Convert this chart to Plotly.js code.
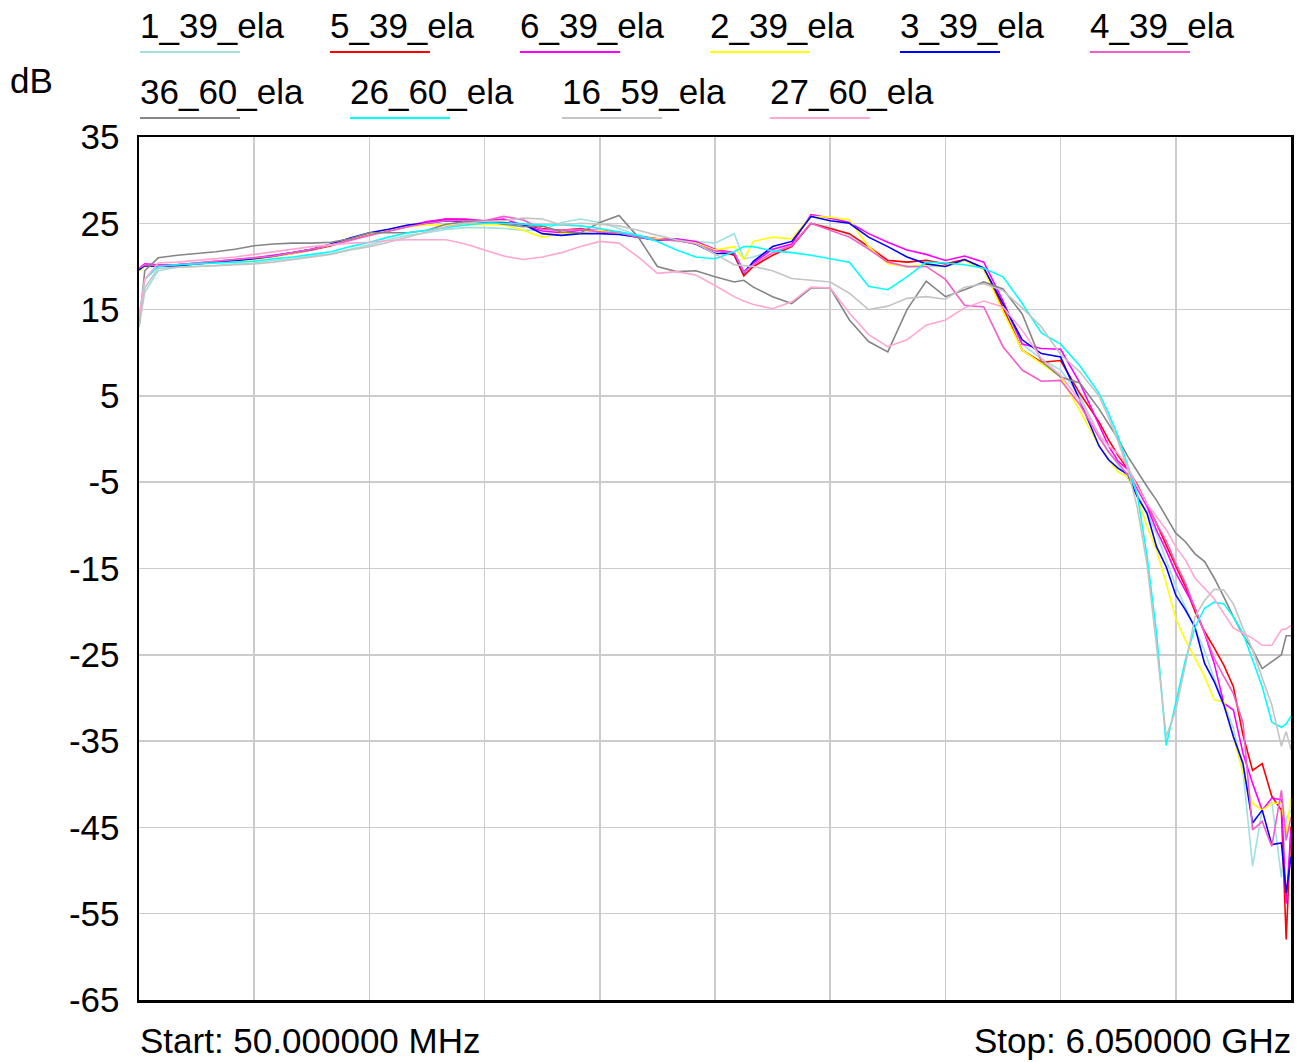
<!DOCTYPE html>
<html>
<head>
<meta charset="utf-8">
<script src="https://cdn.plot.ly/plotly-3.0.1.min.js"></script>
<style>
  html, body { margin: 0; padding: 0; background: #ffffff; }
  #chart { width: 1308px; height: 1062px; }
</style>
</head>
<body>
<div id="chart"></div>
<script>
// ---------- DATA ----------
const freqMHz = [50,80,150,250,350,450,550,650,750,850,950,1050,1150,1250,1350,1450,1550,1650,1750,1850,1950,2050,2150,2250,2350,2450,2550,2650,2750,2850,2950,3050,3150,3200,3250,3350,3450,3550,3650,3750,3850,3950,4050,4150,4250,4350,4450,4550,4650,4750,4850,4950,5050,5100,5150,5200,5250,5300,5350,5400,5450,5500,5550,5600,5650,5700,5750,5800,5850,5900,5950,6000,6025,6050];

const seriesNames = ['1_39_ela','5_39_ela','6_39_ela','2_39_ela','3_39_ela','4_39_ela','36_60_ela','26_60_ela','16_59_ela','27_60_ela'];

const s1_39 = [13.0,17.0,
  19.5,19.9,20.0,20.1,20.3,20.4,20.7,20.9,21.2,21.5,22.0,22.5,23.1,23.6,23.9,24.3,24.5,24.5,24.4,24.2,24.2,25.1,25.5,25.1,24.4,23.6,23.2,22.9,22.9,
  22.7,23.8,20.9,21.1,21.9,22.4,24.9,24.6,23.6,22.2,20.5,19.9,20.0,20.0,20.7,19.8,15.3,11.0,9.3,8.0,5.0,
  0.5,-1.5,-3.0,-4.5,-6.5,-8.5,-11.0,-14.0,-17.0,-19.5,-22.0,-24.5,-27.8,-30.5,-33.5,-38.5,-49.5,-43.0,-42.0,-50.8,
  -44.0,-43.0];

const s5_39 = [19.6,20.2,
  20.1,20.2,20.3,20.5,20.7,20.9,21.2,21.5,21.9,22.4,23.1,23.7,24.1,24.6,25.1,25.5,25.4,25.2,25.1,24.8,24.4,24.2,24.4,24.0,23.9,23.4,23.2,23.1,22.7,
  21.9,21.3,18.9,20.0,21.3,22.3,25.0,24.4,23.8,22.3,20.7,20.5,20.7,20.3,20.8,19.8,15.2,10.3,8.9,9.1,5.3,
  2.0,-0.1,-1.9,-3.5,-5.3,-7.5,-9.8,-12.3,-14.8,-17.1,-20.0,-22.3,-24.2,-26.2,-28.7,-34.3,-38.4,-37.6,-41.4,-43.0,
  -58.0,-44.9];

const s6_39 = [19.8,20.3,
  20.2,20.2,20.4,20.6,20.8,21.0,21.3,21.6,22.0,22.5,23.1,23.7,24.2,24.7,25.2,25.5,25.5,25.3,25.5,24.8,24.1,23.9,24.2,24.2,24.0,23.5,23.2,23.2,22.9,
  22.0,21.6,19.4,20.4,22.0,22.6,26.0,25.6,25.1,23.8,22.8,21.9,21.4,20.7,21.2,20.5,16.0,11.0,10.5,10.4,6.5,
  1.5,-0.8,-2.6,-3.5,-5.8,-7.8,-10.6,-12.9,-15.5,-17.5,-19.6,-22.5,-26.0,-30.6,-31.4,-36.4,-39.9,-43.0,-41.6,-41.8,
  -53.8,-45.3];

const s2_39 = [19.5,20.0,
  20.0,20.1,20.3,20.5,20.6,20.8,21.1,21.5,22.0,22.5,23.2,23.8,24.2,24.6,24.8,24.8,24.8,24.9,24.8,24.2,23.4,23.8,23.9,24.2,23.8,23.4,23.2,23.0,22.7,
  21.9,22.3,20.8,22.9,23.4,23.2,25.8,25.7,25.4,22.3,20.3,20.0,20.2,20.0,20.7,19.6,14.8,10.3,8.7,7.2,3.3,
  -0.8,-2.4,-3.8,-4.4,-6.7,-10.1,-12.9,-16.7,-20.8,-23.3,-25.4,-27.5,-30.2,-30.4,-34.5,-38.7,-42.2,-43.0,-42.2,-42.2,
  -45.7,-41.6];

const s3_39 = [19.6,20.1,
  20.0,20.1,20.3,20.5,20.7,20.9,21.2,21.6,22.0,22.6,23.3,23.9,24.3,24.8,25.0,25.3,25.2,25.1,25.0,24.9,23.8,23.6,23.8,23.8,23.7,23.4,23.0,23.1,22.6,
  21.5,21.5,19.2,20.6,22.3,22.9,25.8,25.3,25.0,23.4,22.3,21.1,20.3,20.0,20.8,19.8,15.7,11.5,9.9,9.5,4.5,
  -0.8,-2.4,-3.4,-4.1,-6.7,-8.6,-12.5,-14.8,-18.1,-19.8,-21.8,-26.0,-28.1,-30.8,-34.5,-37.6,-44.5,-43.0,-47.0,-46.8,
  -52.6,-48.4];

const s4_39 = [19.8,20.2,
  20.1,20.2,20.4,20.6,20.8,21.0,21.2,21.6,22.0,22.5,23.0,23.6,24.1,24.6,25.0,25.3,25.3,25.3,25.8,25.4,24.3,24.2,24.3,24.0,23.9,23.4,23.1,23.0,22.6,
  21.8,21.6,19.3,20.2,21.6,22.4,25.0,24.2,23.4,22.0,20.5,20.0,20.0,18.5,15.5,15.3,10.7,8.0,6.7,6.8,4.0,
  0.2,-1.5,-2.8,-4.2,-5.5,-7.5,-9.8,-11.8,-14.4,-16.7,-19.6,-22.7,-25.4,-27.5,-29.5,-32.9,-45.3,-44.3,-47.2,-40.7,
  -46.5,-43.8];

const s36_60 = [13.0,19.5,
  21.0,21.3,21.5,21.7,22.0,22.4,22.6,22.7,22.7,22.8,23.2,23.9,23.9,23.9,24.2,24.9,25.2,25.2,24.9,24.6,24.7,24.0,23.9,25.1,25.9,23.4,20.0,19.4,19.5,
  18.8,18.2,18.4,17.6,16.5,15.7,17.5,17.5,13.8,11.3,10.1,15.0,18.3,16.5,17.3,18.2,17.4,14.5,9.0,7.2,6.5,
  3.5,1.8,0.0,-2.0,-3.8,-5.5,-7.1,-9.0,-10.9,-11.9,-13.3,-14.2,-16.1,-18.3,-20.6,-22.7,-24.4,-26.6,-25.8,-25.0,
  -22.8,-22.8];

const s26_60 = [14.0,18.5,
  20.0,20.2,20.3,20.4,20.5,20.6,20.9,21.1,21.4,21.7,22.3,22.8,23.4,23.9,24.2,24.5,24.8,25.0,25.0,24.9,24.8,24.8,24.7,24.4,24.0,23.6,22.9,21.9,21.1,
  20.9,21.7,22.3,22.3,21.8,21.6,21.3,20.9,20.5,17.7,17.3,18.8,20.5,20.4,20.2,19.8,18.8,15.7,12.3,11.0,8.5,
  5.3,3.0,0.3,-3.0,-6.5,-13.5,-22.5,-35.5,-30.5,-25.6,-21.8,-19.6,-18.9,-19.1,-20.6,-22.5,-25.6,-28.7,-32.8,-33.4,
  -33.0,-32.1];

const s16_59 = [13.0,17.5,
  19.8,19.9,20.0,20.1,20.2,20.3,20.5,20.8,21.1,21.4,21.9,22.3,22.8,23.4,24.0,24.6,25.0,25.2,25.3,25.6,25.5,24.8,25.0,24.9,24.7,24.2,23.6,23.1,22.7,
  21.5,20.2,20.1,20.0,19.5,18.6,18.4,18.2,16.9,15.0,15.4,16.3,16.5,16.2,17.6,18.0,17.2,15.2,13.0,9.8,7.8,
  5.0,2.5,-0.3,-3.5,-8.0,-14.5,-24.0,-34.5,-31.4,-26.2,-20.6,-18.7,-17.4,-17.5,-19.1,-21.9,-24.4,-27.7,-30.8,-35.6,
  -33.9,-36.0];

const s27_60 = [14.0,18.5,
  20.4,20.5,20.7,20.9,21.1,21.4,21.7,22.0,22.3,22.5,22.7,22.8,23.0,23.1,23.1,23.1,22.6,21.9,21.2,20.8,21.1,21.6,22.3,22.9,22.7,21.1,19.2,19.4,19.0,
  17.8,16.5,16.0,15.6,15.1,15.9,17.6,17.5,14.6,12.1,10.7,11.5,13.2,13.8,15.2,16.0,15.3,12.6,9.3,7.4,4.5,
  0.5,-0.8,-1.7,-3.2,-5.5,-7.5,-9.0,-10.5,-12.5,-14.0,-16.1,-17.3,-18.5,-20.2,-21.9,-22.5,-23.1,-23.9,-23.9,-22.1,
  -22.0,-21.6];

const yTickValues = [35,25,15,5,-5,-15,-25,-35,-45,-55,-65];
const yTickLabels = ['35','25','15','5','-5','-15','-25','-35','-45','-55','-65'];
const yUnit = 'dB';
const startLabel = 'Start: 50.000000 MHz';
const stopLabel = 'Stop: 6.050000 GHz';

// ---------- STYLE ----------
const seriesValues = [s1_39, s5_39, s6_39, s2_39, s3_39, s4_39, s36_60, s26_60, s16_59, s27_60];
const seriesColors = ['#9fe0e0','#ff0000','#ff00ff','#ffff00','#0000ff','#f45ccb','#858585','#00ffff','#c4c4c4','#ffa6d2'];

const W = 1308, H = 1062;
const plotL = 139, plotR = 1291, plotT = 137, plotB = 1000;
const pw = plotR - plotL, ph = plotB - plotT;
const px = x => (x - plotL) / pw;
const py = y => (plotB - y) / ph;
const FONT = 'Liberation Sans, Arial, sans-serif';
const FS = 35;

const traces = seriesNames.map((n, i) => ({
  type: 'scatter', mode: 'lines', name: n,
  x: freqMHz, y: seriesValues[i],
  line: { color: seriesColors[i], width: 1.6 },
  hoverinfo: 'skip'
}));

// legend positions (pixels): row, left x
const legendPos = [[0,140],[0,330],[0,520],[0,710],[0,900],[0,1090],[1,140],[1,350],[1,562],[1,770]];
const rowTextY = [26, 91];
const rowLineY = [52, 118];

const annotations = [];
const shapes = [];
seriesNames.forEach((n, i) => {
  const [r, lx] = legendPos[i];
  annotations.push({
    xref: 'paper', yref: 'paper', x: px(lx - 2), y: py(rowTextY[r]),
    xanchor: 'left', yanchor: 'middle', showarrow: false,
    text: n, font: { family: FONT, size: FS, color: '#000' }
  });
  shapes.push({
    type: 'line', xref: 'paper', yref: 'paper',
    x0: px(lx), x1: px(lx + 100), y0: py(rowLineY[r]), y1: py(rowLineY[r]),
    line: { color: seriesColors[i], width: 2 }
  });
});
annotations.push({
  xref: 'paper', yref: 'paper', x: px(8), y: py(80),
  xanchor: 'left', yanchor: 'middle', showarrow: false,
  text: yUnit, font: { family: FONT, size: FS, color: '#000' }
});
annotations.push({
  xref: 'paper', yref: 'paper', x: px(138), y: py(1040),
  xanchor: 'left', yanchor: 'middle', showarrow: false,
  text: startLabel, font: { family: FONT, size: FS, color: '#000' }
});
annotations.push({
  xref: 'paper', yref: 'paper', x: px(1293), y: py(1040),
  xanchor: 'right', yanchor: 'middle', showarrow: false,
  text: stopLabel, font: { family: FONT, size: FS, color: '#000' }
});

const layout = {
  width: W, height: H,
  margin: { l: plotL, r: W - plotR, t: plotT, b: H - plotB, pad: 0 },
  paper_bgcolor: '#ffffff', plot_bgcolor: '#ffffff',
  showlegend: false,
  font: { family: FONT, size: FS, color: '#000' },
  xaxis: {
    range: [50, 6050], tick0: 50, dtick: 600, tickmode: 'linear',
    showticklabels: false, ticks: '',
    showgrid: true, gridcolor: '#cccccc', gridwidth: 1.5,
    zeroline: false, showline: true, linecolor: '#000', linewidth: 2.5, mirror: true
  },
  yaxis: {
    range: [-65, 35], tickmode: 'array', tickvals: yTickValues, ticktext: yTickLabels,
    ticks: '', ticklabelstandoff: 10,
    tickfont: { family: FONT, size: FS, color: '#000' },
    showgrid: true, gridcolor: '#cccccc', gridwidth: 1.5,
    zeroline: false, showline: true, linecolor: '#000', linewidth: 2.5, mirror: true
  },
  annotations: annotations,
  shapes: shapes
};

Plotly.newPlot('chart', traces, layout, { displayModeBar: false, staticPlot: true });
</script>
</body>
</html>
